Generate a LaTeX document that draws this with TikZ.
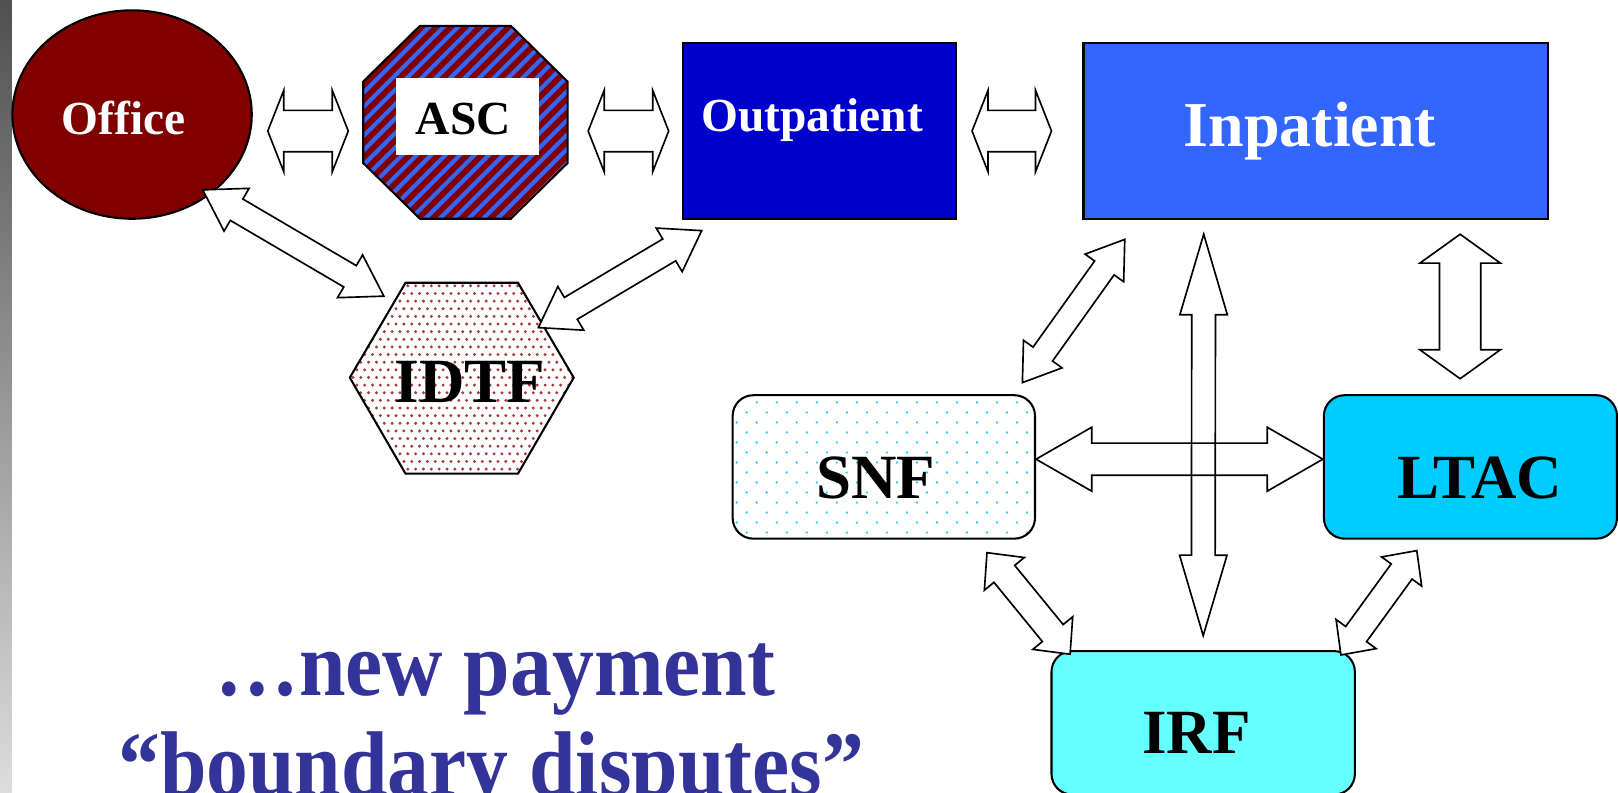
\documentclass[tikz,border=0pt]{standalone}
\usepackage{fontspec}
\setmainfont{Liberation Serif}
\usepackage{xcolor}
\usetikzlibrary{calc,shapes.geometric}

\definecolor{officered}{HTML}{800000}
\definecolor{ascblue}{HTML}{3366FF}
\definecolor{outblue}{HTML}{0000CC}
\definecolor{inblue}{HTML}{3366FF}
\definecolor{ltaccyan}{HTML}{00CCFF}
\definecolor{irfcyan}{HTML}{66FFFF}
\definecolor{snfdot}{HTML}{33CCFF}
\definecolor{idtfdot}{HTML}{A83A3A}
\definecolor{captionblue}{HTML}{333399}
\definecolor{bartop}{HTML}{505050}
\definecolor{barbottom}{HTML}{DDDDDD}

\tikzset{
	shapeline/.style={draw=black, line width=2pt},
	blockarrow/.style={draw=black, line width=1.6pt, line join=miter},
	box/.style={shapeline, rectangle, inner sep=0pt},
	roundbox/.style={box, rounded corners=20pt},
	boxlabel/.style={anchor=base, inner sep=0pt, font=\fontsize{#1}{#1}\selectfont\bfseries},
	caption/.style={anchor=base, inner sep=0pt, text=captionblue, font=\fontsize{81}{81}\selectfont\bfseries}
}

% double block arrow between two tips: [style] tip, tip, shaft half width, head half width, head length
\newcommand{\blockarrow}[6][fill=white]{%
	\coordinate (ba-s) at ($(#2)!#6!(#3)$);
	\coordinate (ba-e) at ($(#3)!#6!(#2)$);
	\draw[blockarrow, #1] (#2)
		-- ($(ba-s)!#5!90:(#3)$) -- ($(ba-s)!#4!90:(#3)$)
		-- ($(ba-e)!#4!-90:(#2)$) -- ($(ba-e)!#5!-90:(#2)$)
		-- (#3)
		-- ($(ba-e)!#5!90:(#2)$) -- ($(ba-e)!#4!90:(#2)$)
		-- ($(ba-s)!#4!-90:(#3)$) -- ($(ba-s)!#5!-90:(#3)$)
		-- cycle;
}

\begin{document}
\begin{tikzpicture}[x=1pt, y=-1pt]
		\useasboundingbox (0,0) rectangle (1568,768);
		\clip (0,0) rectangle (1568,768);
		\shade[top color=bartop, bottom color=barbottom] (0,0) rectangle (11.6,768);

		% office
		\node[ellipse, shapeline, fill=officered, minimum width=232pt, minimum height=202pt, inner sep=0pt] (office) at (128,111) {};
		\node[boxlabel=46, text=white] (officelbl) at (120,130) {Office};

		% ASC
		\begin{scope}
			\clip (407,25) -- (495,25) -- (550,79) -- (550,158) -- (495,212) -- (407,212) -- (352,158) -- (352,79) -- cycle;
			\fill[officered] (352,25) rectangle (550,212);
			\foreach \k in {372,386,...,780} \draw[ascblue, line width=4pt] ({\k-250},250) -- (\k,0);
		\end{scope}
		\draw[shapeline] (407,25) -- (495,25) -- (550,79) -- (550,158) -- (495,212) -- (407,212) -- (352,158) -- (352,79) -- cycle;
		\node[fill=white, minimum width=138pt, minimum height=74pt, inner sep=0pt] (asc) at (453,113) {};
		\node[boxlabel=46] (asclbl) at (449,130) {ASC};

		% IDTF
		\begin{scope}
			\clip (339,366) -- (393,274) -- (502,274) -- (556,366) -- (502,459) -- (393,459) -- cycle;
			\foreach \j in {0,...,25} \foreach \i in {0,...,28}
				\fill[idtfdot] ({342+\i*7.6+mod(\j,2)*3.8},{277+\j*7.4}) circle (1.6);
		\end{scope}
		\draw[shapeline] (339,366) -- (393,274) -- (502,274) -- (556,366) -- (502,459) -- (393,459) -- cycle;
		\node[boxlabel=61] (idtf) at (455.5,390) {IDTF};

		% settings of care
		\node[box, fill=outblue, minimum width=264pt, minimum height=170.5pt] (outpt) at (794,126.75) {};
		\node[boxlabel=46, text=white] (outptlbl) at (787,127) {Outpatient};
		\node[box, fill=inblue, minimum width=450pt, minimum height=170.5pt] (inpt) at (1275,126.75) {};
		\node[boxlabel=62, text=white] (inptlbl) at (1269.5,142) {Inpatient};

		\begin{scope}
			\clip[rounded corners=20pt] (710,383) rectangle (1003,522);
			\fill[white] (710,383) rectangle (1003,522);
			\foreach \j in {0,...,14} \foreach \i in {0,...,15}
				\fill[snfdot] ({714+\i*19.4+mod(\j,2)*9.7},{390+\j*9.7}) circle (1.3);
		\end{scope}
		\node[roundbox, minimum width=293pt, minimum height=139pt] (snf) at (856.5,452.5) {};
		\node[boxlabel=61] (snflbl) at (848.5,483) {SNF};
		\node[roundbox, fill=ltaccyan, minimum width=284pt, minimum height=139pt] (ltac) at (1425,452.5) {};
		\node[boxlabel=61] (ltaclbl) at (1434,483) {LTAC};
		\node[roundbox, fill=irfcyan, minimum width=294pt, minimum height=139pt] (irf) at (1166,700.5) {};
		\node[boxlabel=61] (irflbl) at (1159.5,730) {IRF};

		% arrow tips
		\path (259.5,127) coordinate (oa1) (337.5,127) coordinate (oa2)
			(570,127) coordinate (ao1) (648,127) coordinate (ao2)
			(942,127) coordinate (oi1) (1019,127) coordinate (oi2)
			(196.5,184) coordinate (od1) (372,287) coordinate (od2)
			(521.7,317.5) coordinate (do1) (680,223.5) coordinate (do2)
			(1090,232) coordinate (is1) (990.8,370.8) coordinate (is2)
			(1166.5,227) coordinate (ir1) (1166,616) coordinate (ir2)
			(1415,227) coordinate (il1) (1415,367) coordinate (il2)
			(1004,445) coordinate (sl1) (1282,445) coordinate (sl2)
			(956.5,535.6) coordinate (sr1) (1037,634) coordinate (sr2)
			(1373,533.6) coordinate (lr1) (1299.5,634.7) coordinate (lr2);

		\blockarrow{oa1}{oa2}{20pt}{39.5pt}{15.5pt}
		\blockarrow{ao1}{ao2}{20pt}{39.5pt}{15.5pt}
		\blockarrow{oi1}{oi2}{20pt}{39.5pt}{15.5pt}
		\blockarrow{od1}{od2}{12pt}{24pt}{38pt}
		\blockarrow{do1}{do2}{12.3pt}{24.6pt}{36.6pt}
		\blockarrow{is1}{is2}{11.6pt}{23pt}{34pt}
		\blockarrow{il1}{il2}{20pt}{39pt}{28pt}
		\blockarrow{sl1}{sl2}{15.6pt}{31pt}{54pt}
		\blockarrow[fill=none]{ir1}{ir2}{11.5pt}{23pt}{78pt}
		\blockarrow{sr1}{sr2}{13pt}{25pt}{26.5pt}
		\blockarrow{lr1}{lr2}{12.5pt}{24pt}{25pt}

		\node[caption] (cap1) at (480,674) {\scalebox{1}[1.1]{…new payment}};
		\node[caption] (cap2) at (476,771) {\scalebox{1}[1.1]{“boundary disputes”}};
	\end{tikzpicture}
\end{document}
